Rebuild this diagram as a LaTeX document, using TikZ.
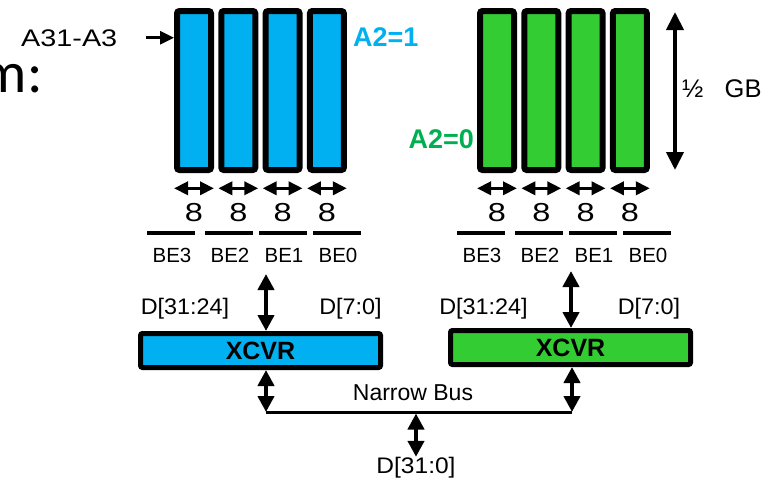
\documentclass[tikz,border=0pt]{standalone}
\usepackage{fontspec}
\setmainfont{Liberation Sans}
\newfontfamily\slidefont{Carlito}
\usetikzlibrary{arrows.meta,positioning}

\definecolor{bankblue}{HTML}{00B0F0}
\definecolor{bankgreen}{HTML}{33CC33}
\definecolor{selgreen}{HTML}{00B050}

\newcommand{\pxfont}[1]{\fontsize{#1}{#1}\selectfont}
\newcommand{\hstretch}[2]{\scalebox{#1}[1]{#2}}

\begin{document}
\begin{tikzpicture}[x=1pt,y=-1pt,node distance=44.3pt,
    chip/.style={draw,line width=6pt,rounded corners=2.5pt,minimum width=34pt,
        minimum height=159pt,inner sep=0pt},
    xcvr/.style={draw,line width=5pt,rounded corners=2pt,minimum width=240pt,
        minimum height=34pt,inner sep=0pt,font=\bfseries\pxfont{25}},
    lane/.style={line width=3.5pt,{Triangle[width=13pt,length=14pt]}-{Triangle[width=13pt,length=14pt]}},
    bus/.style={line width=4.5pt,{Triangle[width=16pt,length=16pt]}-{Triangle[width=16pt,length=16pt]}},
    lbl/.style={inner sep=0pt,font=\pxfont{22.5}}]
        \useasboundingbox (0,0) rectangle (766,479);

        \node[anchor=base east,inner sep=0pt,font=\slidefont\pxfont{58}] (mtxt) at (43,92) {m:};

        % bank with A2=1
        \node[chip,fill=bankblue] (b3) at (194,90.5) {};
        \node[chip,fill=bankblue] (b2) [right of=b3] {};
        \node[chip,fill=bankblue] (b1) [right of=b2] {};
        \node[chip,fill=bankblue] (b0) [right of=b1] {};

        % bank with A2=0
        \node[chip,fill=bankgreen] (g3) at (497,90.5) {};
        \node[chip,fill=bankgreen] (g2) [right of=g3] {};
        \node[chip,fill=bankgreen] (g1) [right of=g2] {};
        \node[chip,fill=bankgreen] (g0) [right of=g1] {};

        \foreach \c in {b3,b2,b1,b0,g3,g2,g1,g0} {
            \draw[lane] ([yshift=-15.3pt]\c.south west) -- ([yshift=-15.3pt]\c.south east);
            \node[lbl,font=\pxfont{26}] (w\c) at ([yshift=-39.5pt]\c.south) {\hstretch{1.25}{8}};
        }

        % byte enables, active low
        \foreach \n/\xa/\xb in {3/172/482,2/230/540,1/284/594,0/338/648} {
            \node[lbl,font=\pxfont{20.5}] (bBE\n) at (\xa,255.5) {BE\n};
            \node[lbl,font=\pxfont{20.5}] (gBE\n) at (\xb,255.5) {BE\n};
            \draw[line width=3.5pt] ([xshift=-25pt,yshift=22.5pt]bBE\n.center) -- ([xshift=23pt,yshift=22.5pt]bBE\n.center);
            \draw[line width=3.5pt] ([xshift=-25pt,yshift=22.5pt]gBE\n.center) -- ([xshift=23pt,yshift=22.5pt]gBE\n.center);
        }

        \node[anchor=base west,inner sep=0pt,font=\pxfont{24}] (addr) at (21,46) {\hstretch{1.2}{A31-A3}};
        \draw[line width=3pt,-{Triangle[width=13pt,length=14pt]}] ([xshift=29pt]addr.east) -- (addr.east -| b3.west);

        \node[anchor=base west,inner sep=0pt,font=\bfseries\pxfont{27},text=bankblue] (selb) at (353,46) {A2=1};
        \node[anchor=base east,inner sep=0pt,font=\bfseries\pxfont{27},text=selgreen] (selg) at (474,148) {A2=0};

        % size of one bank
        \coordinate (szt) at (675,12);
        \coordinate (szb) at (675,170);
        \draw[line width=4pt,{Triangle[width=17pt,length=18pt]}-{Triangle[width=17pt,length=18pt]}] (szt) -- (szb);
        \node[anchor=base west,inner sep=0pt,font=\pxfont{25.5}] (gb) at (682,97) {½~~~GB};

        % transceivers
        \node[xcvr,fill=bankblue] (xb) at (260.5,350.5) {XCVR};
        \node[xcvr,fill=bankgreen] (xg) at (570.5,347.5) {XCVR};

        \node[lbl] (dbh) at (185,309) {\hstretch{1.04}{D[31:24]}};
        \node[lbl] (dbl) at (350.5,309) {\hstretch{1.04}{D[7:0]}};
        \node[lbl] (dgh) at (483.5,309) {\hstretch{1.04}{D[31:24]}};
        \node[lbl] (dgl) at (649,309) {\hstretch{1.04}{D[7:0]}};

        \coordinate (tb) at (266,274);
        \coordinate (tg) at (571,271);
        \draw[bus] (tb) -- (tb |- xb.north);
        \draw[bus] (tg) -- (tg |- xg.north);

        % narrow bus
        \coordinate (busl) at (266,412);
        \coordinate (busr) at (572,412);
        \coordinate (busm) at (416,413.5);
        \draw[line width=3pt] (busl) -- (busr);
        \draw[bus] (busl |- xb.south) -- (busl);
        \draw[bus] (busr |- xg.south) -- (busr);
        \node[lbl,font=\pxfont{23}] (nb) at (413,392.5) {Narrow Bus};
        \node[lbl] (dall) at (416,467.5) {\hstretch{1.09}{D[31:0]}};
        \draw[bus] (busm) -- (dall.north);
    \end{tikzpicture}
\end{document}
